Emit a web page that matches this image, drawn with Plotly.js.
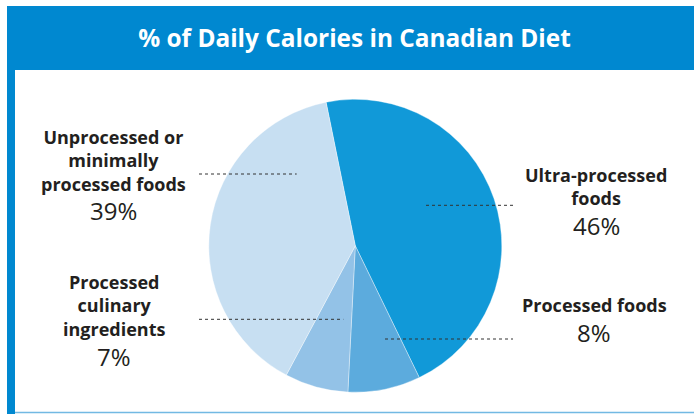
<!DOCTYPE html>
<html>
<head>
<meta charset="utf-8">
<script src="https://cdn.plot.ly/plotly-3.0.1.min.js"></script>
<style>
html,body{margin:0;padding:0;background:#fff;}
#chart{width:694px;height:414px;}
</style>
</head>
<body>
<div id="chart"></div>
<script>
// ---- data ----
const categories = ['Ultra-processed foods', 'Processed foods', 'Processed culinary ingredients', 'Unprocessed or minimally processed foods'];
const values = [46, 8, 7, 39];
const labelLines = [
  ['Ultra-processed', 'foods'],
  ['Processed foods'],
  ['Processed', 'culinary', 'ingredients'],
  ['Unprocessed or', 'minimally', 'processed foods']
];
const titleText = '% of Daily Calories in Canadian Diet';

// ---- styles ----
const sliceColors = ['#1199d8', '#5cabdd', '#93c2e7', '#c7dff2'];
const W = 694, H = 414;
const px = x => x / W;
const py = y => 1 - y / H;
const FONT = '"Open Sans", "Noto Sans", sans-serif';
const textColor = '#231f20';
const LABEL_FS = 18, VALUE_FS = 24;

// pie geometry (pixels)
const cx = 355.3, cy = 245.8, R = 146.5;

// label placement (pixels): mid-baseline of label block, value baseline, leader line
const placements = [
  {lx: 596, bm: 193.15, vx: 596, vb: 235, line: [426, 513, 205.3]},
  {lx: 594, bm: 312, vx: 594, vb: 341.7, line: [385, 513, 339]},
  {lx: 114, bm: 312.15, vx: 114, vb: 366, line: [199, 343.3, 319.3]},
  {lx: 113, bm: 167.85, vx: 113.7, vb: 220, line: [199, 296.7, 174]}
];

const trace = {
  type: 'pie',
  labels: categories,
  values: values,
  sort: false,
  direction: 'clockwise',
  rotation: -11.5,
  textinfo: 'none',
  textposition: 'none',
  hoverinfo: 'label+percent',
  marker: {colors: sliceColors, line: {color: 'rgba(255,255,255,0.6)', width: 0.6}},
  domain: {x: [px(cx - R), px(cx + R)], y: [py(cy + R), py(cy - R)]},
  showlegend: false
};

const annotations = [];
const shapes = [
  {type: 'rect', xref: 'paper', yref: 'paper', x0: px(7), x1: px(694), y0: py(70), y1: py(6), fillcolor: '#0088d0', line: {width: 0}, layer: 'below'},
  {type: 'rect', xref: 'paper', yref: 'paper', x0: px(7), x1: px(15), y0: py(414), y1: py(70), fillcolor: '#0088d0', line: {width: 0}, layer: 'below'},
  {type: 'line', xref: 'paper', yref: 'paper', x0: px(15), x1: px(694), y0: py(412.5), y1: py(412.5), line: {color: '#72b9e3', width: 1.5}, layer: 'below'}
];

// y center of a text block whose baselines are centred on b
const mid = (b, fs) => b - 0.388 * fs;

categories.forEach((c, i) => {
  const p = placements[i];
  annotations.push({
    xref: 'paper', yref: 'paper', x: px(p.lx), y: py(mid(p.bm, LABEL_FS)),
    xanchor: 'center', yanchor: 'middle', align: 'center', showarrow: false, borderpad: 0,
    text: labelLines[i].join('<br>'),
    font: {family: FONT, size: LABEL_FS, color: textColor, weight: 700}
  });
  annotations.push({
    xref: 'paper', yref: 'paper', x: px(p.vx), y: py(mid(p.vb, VALUE_FS)),
    xanchor: 'center', yanchor: 'middle', showarrow: false, borderpad: 0,
    text: values[i] + '%',
    font: {family: FONT, size: VALUE_FS, color: textColor, weight: 400}
  });
  shapes.push({
    type: 'line', xref: 'paper', yref: 'paper',
    x0: px(p.line[0]), x1: px(p.line[1]), y0: py(p.line[2]), y1: py(p.line[2]),
    line: {color: '#333333', width: 1, dash: 'dot'}, layer: 'above'
  });
});

const layout = {
  width: W, height: H,
  margin: {l: 0, r: 0, t: 0, b: 0},
  paper_bgcolor: '#ffffff',
  plot_bgcolor: '#ffffff',
  showlegend: false,
  title: {
    text: '<b>' + titleText + '</b>',
    font: {family: FONT, size: 24.4, color: '#ffffff'},
    xref: 'paper', x: px(354.5), xanchor: 'center',
    yref: 'container', y: py(38.4), yanchor: 'middle'
  },
  annotations: annotations,
  shapes: shapes
};

Plotly.newPlot('chart', [trace], layout, {displayModeBar: false, staticPlot: true});
</script>
</body>
</html>
